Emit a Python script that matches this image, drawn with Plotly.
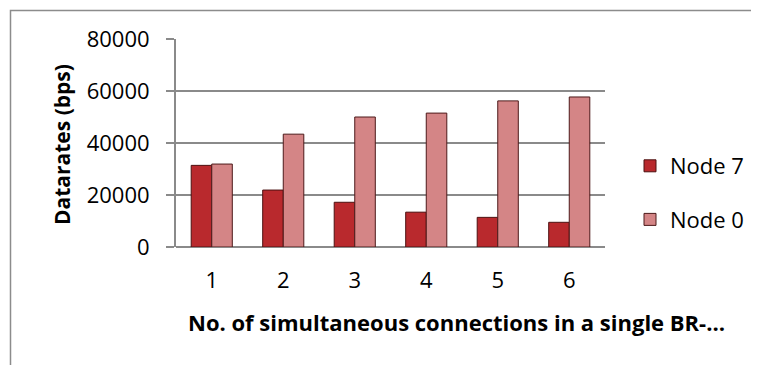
import plotly.graph_objects as go

categories = ["1", "2", "3", "4", "5", "6"]
node7 = [31400, 21900, 17200, 13400, 11400, 9500]
node0 = [31900, 43400, 50000, 51500, 56200, 57700]
y_ticks = [0, 20000, 40000, 60000, 80000]
y_tick_labels = ["0", "20000", "40000", "60000", "80000"]
x_title = "No. of simultaneous connections in a single BR-…"
y_title = "Datarates (bps)"

# the page body has an 8px default margin; compensate
OFF = 8
W, H = 759 - OFF, 365 - OFF
L, R, T, B = 176 - OFF, 154, 39 - OFF, 118
PW, PH = W - L - R, H - T - B

def px(xs):  # screen x -> paper
    return (xs - OFF - L) / PW

def py(ys):  # screen y -> paper
    return 1 - (ys - OFF - T) / PH

FONT = "Open Sans"
GRID = "#8a8a8a"

fig = go.Figure()
fig.add_trace(go.Bar(
    x=categories, y=node7, name="Node 7",
    marker=dict(color="#b9292d", line=dict(color="#4d1212", width=1)),
    legendgroup="a",
))
fig.add_trace(go.Bar(
    x=categories, y=node0, name="Node 0",
    marker=dict(color="#d48586", line=dict(color="#4d1a1a", width=1)),
    legendgroup="b",
))

fig.update_layout(
    width=W, height=H,
    margin=dict(l=L, r=R, t=T, b=B, pad=0, autoexpand=False),
    paper_bgcolor="white", plot_bgcolor="white",
    barmode="group", bargap=0.425, bargroupgap=0,
    font=dict(family=FONT, color="black", size=22),
    showlegend=True,
    legend=dict(
        x=px(630), xanchor="left", y=py(145), yanchor="top",
        font=dict(family=FONT, size=22, color="black"),
        tracegroupgap=22, bgcolor="rgba(0,0,0,0)",
    ),
    xaxis=dict(
        showgrid=False, showline=False, ticks="", automargin=False,
        tickfont=dict(family=FONT, size=22, color="black"),
        ticklabelstandoff=18,
    ),
    yaxis=dict(
        range=[0, 80000], tickvals=y_ticks, ticktext=y_tick_labels,
        automargin=False,
        showgrid=True, gridcolor=GRID, gridwidth=2,
        zeroline=True, zerolinecolor=GRID, zerolinewidth=2,
        showline=True, linecolor=GRID, linewidth=2,
        ticks="outside", ticklen=8, tickcolor=GRID, tickwidth=2,
        tickfont=dict(family=FONT, size=22, color="black"),
        ticklabelstandoff=12,
    ),
    annotations=[
        dict(text=x_title, xref="paper", yref="paper",
             x=px(456.5), y=py(322), xanchor="center", yanchor="middle",
             showarrow=False,
             font=dict(family=FONT, size=22, color="black", weight="bold")),
        dict(text=y_title, xref="paper", yref="paper",
             x=px(62), y=py(145), xanchor="center", yanchor="middle",
             textangle=-90, showarrow=False,
             font=dict(family=FONT, size=21, color="black", weight="bold")),
    ],
    shapes=[
        dict(type="rect", xref="paper", yref="paper",
             x0=px(10.5), x1=px(775), y0=py(380), y1=py(10.5),
             line=dict(color="#8c8c8c", width=1.5), fillcolor="rgba(0,0,0,0)",
             layer="below"),
    ],
)

fig.write_html("out.html")
